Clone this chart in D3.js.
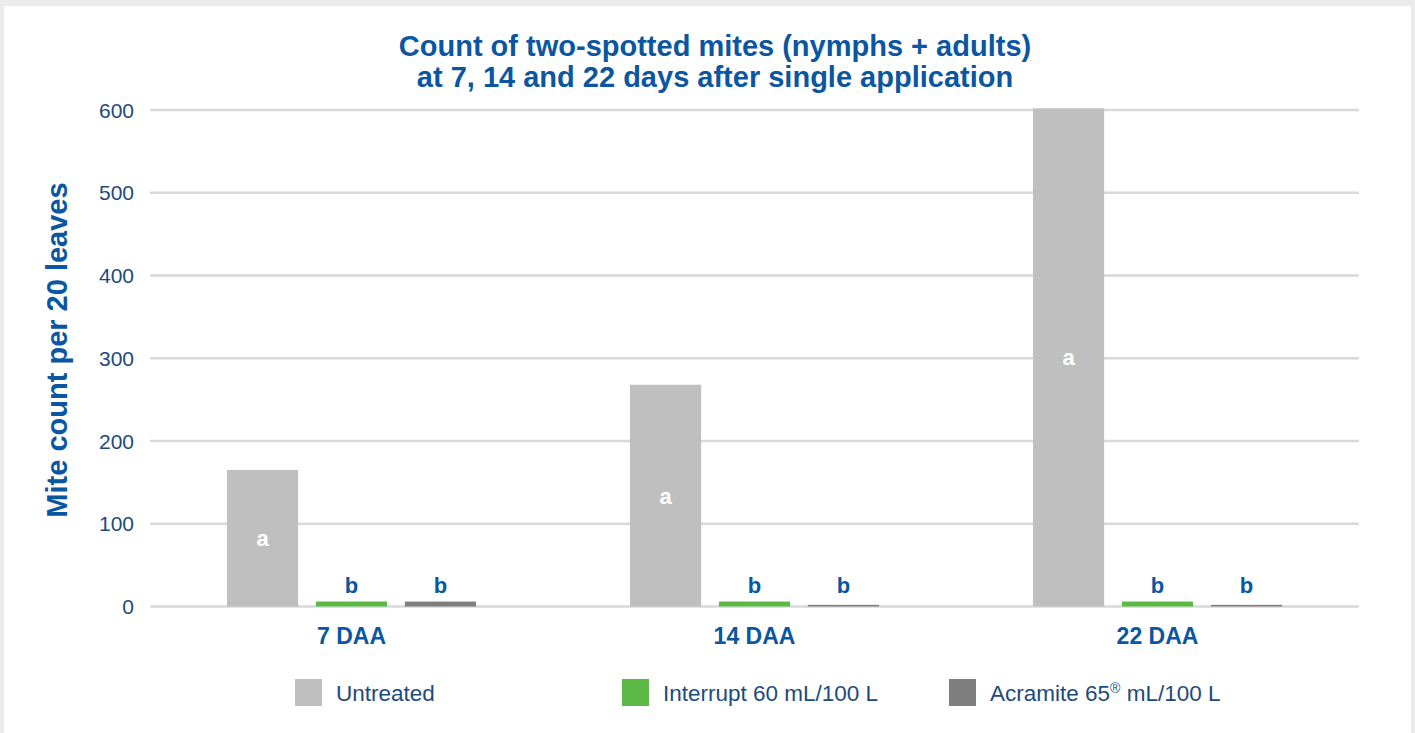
<!DOCTYPE html>
<html>
<head>
<meta charset="utf-8">
<script src="https://cdn.jsdelivr.net/npm/d3@7"></script>
<style>
html,body{margin:0;padding:0;background:#ebebeb;}
svg{display:block;}
text{font-family:"Liberation Sans",Arial,Helvetica,sans-serif;}
</style>
</head>
<body>
<svg id="chart" width="1415" height="733"></svg>
<script>
const categories = ["7 DAA", "14 DAA", "22 DAA"];
const seriesNames = ["Untreated", "Interrupt 60 mL/100 L", "Acramite 65® mL/100 L"];
const untreated = [165, 268, 602];
const interrupt = [6, 6, 6];
const acramite = [6, 2, 2];
const untreatedLetters = ["a", "a", "a"];
const interruptLetters = ["b", "b", "b"];
const acramiteLetters = ["b", "b", "b"];
const yTicks = [0, 100, 200, 300, 400, 500, 600];
const titleLines = ["Count of two-spotted mites (nymphs + adults)", "at 7, 14 and 22 days after single application"];
const yTitle = "Mite count per 20 leaves";

const colors = ["#bfbfbf", "#5cb946", "#7f7f7f"];
const blue = "#0b56a0";
const tickBlue = "#1d4a7e";

const series = [
  {name: seriesNames[0], values: untreated, letters: untreatedLetters, color: colors[0], inside: true},
  {name: seriesNames[1], values: interrupt, letters: interruptLetters, color: colors[1], inside: false},
  {name: seriesNames[2], values: acramite, letters: acramiteLetters, color: colors[2], inside: false}
];

const svg = d3.select("#chart");
svg.append("rect").attr("x", 4).attr("y", 6).attr("width", 1407).attr("height", 740).attr("fill", "#fff");

const plotLeft = 150, plotRight = 1359;
const x0 = d3.scaleBand().domain(categories).range([plotLeft, plotRight]).padding(0);
const x1 = d3.scaleBand().domain(seriesNames).range([0, x0.bandwidth()]).paddingInner(0.2).paddingOuter(0.865);
const y = d3.scaleLinear().domain([0, 600]).range([606.5, 110]);

// gridlines
svg.append("g").selectAll("line").data(yTicks).join("line")
  .attr("x1", plotLeft).attr("x2", plotRight)
  .attr("y1", d => y(d)).attr("y2", d => y(d))
  .attr("stroke", "#d9d9d9").attr("stroke-width", 2.5);

// y tick labels
svg.append("g").selectAll("text").data(yTicks).join("text")
  .attr("x", 134).attr("y", d => y(d)).attr("dy", "0.36em")
  .attr("text-anchor", "end").attr("font-size", 21).attr("fill", tickBlue)
  .text(d => d);

// bars
const groups = svg.append("g").selectAll("g").data(series).join("g");
groups.selectAll("rect").data(s => s.values.map((v, i) => ({s, v, c: categories[i]}))).join("rect")
  .attr("x", d => x0(d.c) + x1(d.s.name))
  .attr("width", x1.bandwidth())
  .attr("y", d => y(d.v))
  .attr("height", d => y(0) - y(d.v))
  .attr("fill", d => d.s.color);

// letters
groups.selectAll("text").data(s => s.values.map((v, i) => ({s, v, c: categories[i], l: s.letters[i]}))).join("text")
  .attr("x", d => x0(d.c) + x1(d.s.name) + x1.bandwidth() / 2)
  .attr("y", d => d.s.inside ? (y(d.v) + y(0)) / 2 : y(0) - 14)
  .attr("dy", d => d.s.inside ? "0.36em" : "0")
  .attr("text-anchor", "middle").attr("font-size", 22).attr("font-weight", "bold")
  .attr("fill", d => d.s.inside ? "#fff" : blue)
  .text(d => d.l);

// x labels
svg.append("g").selectAll("text").data(categories).join("text")
  .attr("x", d => x0(d) + x0.bandwidth() / 2)
  .attr("y", 644)
  .attr("text-anchor", "middle").attr("font-size", 23).attr("font-weight", "bold").attr("fill", blue)
  .text(d => d);

// title
svg.append("g").selectAll("text").data(titleLines).join("text")
  .attr("x", 715).attr("y", (d, i) => 56 + i * 31)
  .attr("text-anchor", "middle").attr("font-size", 29).attr("font-weight", "bold").attr("fill", blue)
  .text(d => d);

// y title
svg.append("text")
  .attr("transform", "translate(67,350) rotate(-90)")
  .attr("text-anchor", "middle").attr("font-size", 29).attr("font-weight", "bold").attr("fill", blue)
  .text(yTitle);

// legend
const legendX = [295, 622, 949];
const lg = svg.append("g").selectAll("g").data(series).join("g")
  .attr("transform", (d, i) => `translate(${legendX[i]},679)`);
lg.append("rect").attr("width", 27).attr("height", 27).attr("fill", d => d.color);
lg.append("text").attr("x", 41).attr("y", 14).attr("dy", "0.36em")
  .attr("font-size", 22.5).attr("fill", tickBlue)
  .each(function(d) {
    const t = d3.select(this);
    const parts = d.name.split("®");
    t.append("tspan").text(parts[0]);
    if (parts.length > 1) {
      t.append("tspan").attr("font-size", 14).attr("dy", "-0.6em").text("®");
      t.append("tspan").attr("dy", "0.38em").text(parts[1]);
    }
  });
</script>
</body>
</html>
